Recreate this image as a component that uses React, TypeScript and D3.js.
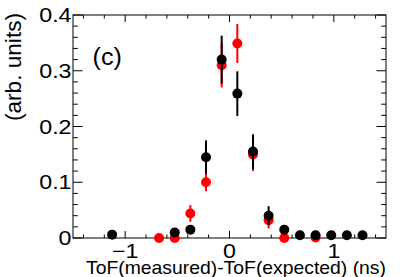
import React from "react";
import * as d3 from "d3";

const W = 407;
const H = 277;

const blackX = [-1.125, -0.525, -0.375, -0.225, -0.075, 0.075, 0.225, 0.375, 0.525, 0.675, 0.825, 0.975, 1.125, 1.275];
const blackY = [0.006, 0.010, 0.015, 0.145, 0.320, 0.259, 0.155, 0.040, 0.015, 0.005, 0.005, 0.005, 0.005, 0.005];
const blackErr = [0.003, 0.005, 0.006, 0.030, 0.043, 0.040, 0.031, 0.017, 0.006, 0.003, 0.003, 0.003, 0.003, 0.003];

const redX = [-0.675, -0.525, -0.375, -0.225, -0.075, 0.075, 0.225, 0.375, 0.525, 0.825];
const redY = [0.0, 0.0, 0.044, 0.100, 0.310, 0.349, 0.150, 0.032, 0.0, 0.001];
const redErr = [0.0, 0.0, 0.015, 0.016, 0.040, 0.035, 0.030, 0.015, 0.0, 0.0];

const yMajor = [0, 0.1, 0.2, 0.3, 0.4];
const yTickLabels = ["0", "0.1", "0.2", "0.3", "0.4"];
const xMajor = [-1, 0, 1];
const xTickLabels = ["\u22121", "0", "1"];

const xTitle = "ToF(measured)-ToF(expected) (ns)";
const yTitle = "(arb. units)";
const panelLabel = "(c)";

const FONT = "'Liberation Sans', Arial, Helvetica, sans-serif";

export default function App() {
  const x = d3.scaleLinear().domain([-1.5, 1.5]).range([73, 386]);
  const y = d3.scaleLinear().domain([0, 0.4]).range([238, 15]);
  const [x0, x1] = x.range();
  const [y0, y1] = y.range();

  const yMinor = d3.range(0, 0.4001, 0.02).filter((v) => !yMajor.some((m) => Math.abs(m - v) < 1e-6));
  const xMinor = d3.range(-1.4, 1.4001, 0.2).filter((v) => !xMajor.some((m) => Math.abs(m - v) < 1e-6));

  const yMajLen = 9.5, yMinLen = 4.8, xMajLen = 7, xMinLen = 3.5;
  const sx = 1.16;

  const series = [
    { xs: redX, ys: redY, es: redErr, color: "#ff0000" },
    { xs: blackX, ys: blackY, es: blackErr, color: "#000000" },
  ];

  return (
    <svg width={W} height={H} style={{ position: "fixed", left: 0, top: 0, background: "#fff" }} fontFamily={FONT}>
      <rect x={0} y={0} width={W} height={H} fill="#fff" />
      {/* frame */}
      <rect x={x0} y={y1} width={x1 - x0} height={y0 - y1} fill="none" stroke="#000" strokeWidth={1} />
      {/* y ticks left & right */}
      {yMajor.map((v, i) => (
        <g key={"ym" + i}>
          <line x1={x0} x2={x0 + yMajLen} y1={y(v)} y2={y(v)} stroke="#000" />
          <line x1={x1} x2={x1 - yMajLen} y1={y(v)} y2={y(v)} stroke="#000" />
          <g transform={`translate(71.5,${y(v) + 7}) scale(${sx},1)`}>
            <text x={0} y={0} fontSize={20} textAnchor="end">{yTickLabels[i]}</text>
          </g>
        </g>
      ))}
      {yMinor.map((v, i) => (
        <g key={"yn" + i}>
          <line x1={x0} x2={x0 + yMinLen} y1={y(v)} y2={y(v)} stroke="#000" />
          <line x1={x1} x2={x1 - yMinLen} y1={y(v)} y2={y(v)} stroke="#000" />
        </g>
      ))}
      {/* x ticks bottom & top */}
      {xMajor.map((v, i) => (
        <g key={"xm" + i}>
          <line x1={x(v)} x2={x(v)} y1={y0} y2={y0 - xMajLen} stroke="#000" />
          <line x1={x(v)} x2={x(v)} y1={y1} y2={y1 + xMajLen} stroke="#000" />
          <g transform={`translate(${x(v)},257.5) scale(${sx},1)`}>
            <text x={0} y={0} fontSize={20} textAnchor="middle">{xTickLabels[i]}</text>
          </g>
        </g>
      ))}
      {xMinor.map((v, i) => (
        <g key={"xn" + i}>
          <line x1={x(v)} x2={x(v)} y1={y0} y2={y0 - xMinLen} stroke="#000" />
          <line x1={x(v)} x2={x(v)} y1={y1} y2={y1 + xMinLen} stroke="#000" />
        </g>
      ))}
      {/* data */}
      {series.map((s, si) => (
        <g key={"s" + si}>
          {s.xs.map((xv, i) => (
            <line key={"e" + i} x1={x(xv)} x2={x(xv)} y1={y(s.ys[i] - s.es[i])} y2={y(s.ys[i] + s.es[i])} stroke={s.color} strokeWidth={2} />
          ))}
          {s.xs.map((xv, i) => (
            <circle key={"c" + i} cx={x(xv)} cy={y(s.ys[i])} r={5} fill={s.color} />
          ))}
        </g>
      ))}
      {/* titles */}
      <text x={386} y={273.5} fontSize={19} textAnchor="end" textLength={300} lengthAdjust="spacingAndGlyphs">{xTitle}</text>
      <text transform="translate(20.5,13) rotate(-90)" fontSize={22} textAnchor="end" textLength={108} lengthAdjust="spacingAndGlyphs">{yTitle}</text>
      <g transform="translate(92.5,65) scale(1.05,1)">
        <text x={0} y={0} fontSize={24}>{panelLabel}</text>
      </g>
    </svg>
  );
}
